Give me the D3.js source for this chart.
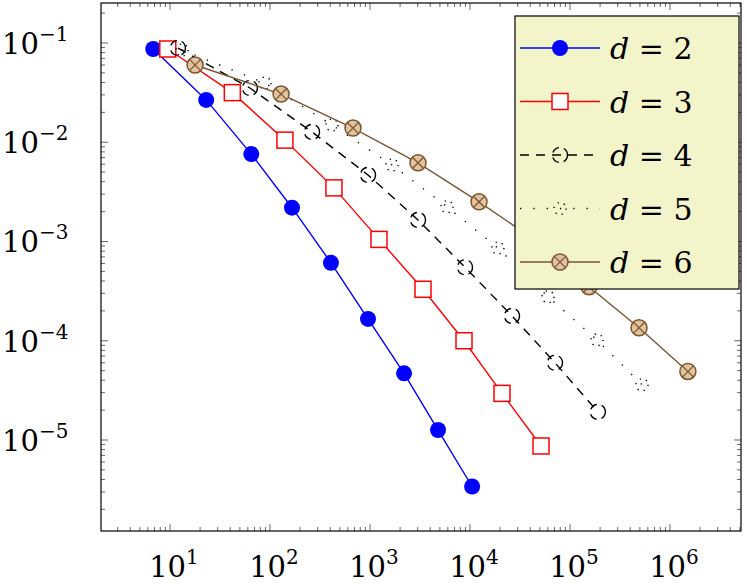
<!DOCTYPE html>
<html>
<head>
<script src="https://cdn.jsdelivr.net/npm/d3@7"></script>
<style>body{margin:0;background:#fff}</style>
</head>
<body>
<svg id="chart" width="747" height="585"></svg>
<script>
// values
const x2 = [6.8, 23, 65, 166, 407, 955, 2190, 4790, 10500];
const y2 = [0.087, 0.0267, 0.0076, 0.00219, 6.1e-4, 1.66e-4, 4.7e-5, 1.26e-5, 3.4e-6];
const x3 = [9.5, 42, 141, 436, 1230, 3390, 8710, 20900, 51300];
const y3 = [0.087, 0.0316, 0.0105, 0.00347, 0.00105, 3.3e-4, 1.0e-4, 2.95e-5, 8.7e-6];
const x4 = [12, 63, 263, 955, 3020, 8910, 26300, 70800, 190000];
const y4 = [0.089, 0.0352, 0.0127, 0.00468, 0.00165, 5.5e-4, 1.78e-4, 6.0e-5, 1.92e-5];
const x5 = [13.2, 89, 417, 1660, 5890, 19000, 60300, 186000, 525000];
const y5 = [0.085, 0.0395, 0.0149, 0.0059, 0.00224, 8.6e-4, 2.77e-4, 1.02e-4, 3.6e-5];
const x6 = [17.8, 129, 676, 3020, 12300, 49000, 155000, 490000, 1510000];
const y6 = [0.060, 0.0306, 0.0139, 0.0062, 0.00251, 9.7e-4, 3.5e-4, 1.35e-4, 4.9e-5];
const labels = ["2", "3", "4", "5", "6"];
const xTickExp = [1, 2, 3, 4, 5, 6];
const yTickExp = [-1, -2, -3, -4, -5];

const L = 101, R = 741, T = 3, B = 531;
const svg = d3.select("#chart");
const x = d3.scaleLog().domain([Math.pow(10, 0.31), Math.pow(10, 6.71)]).range([L, R]);
const y = d3.scaleLog().domain([Math.pow(10, -5.917), Math.pow(10, -0.597)]).range([B, T]);
const font = "DejaVu Serif";

// ticks
const g = svg.append("g").attr("stroke", "#000").attr("stroke-width", 0.6);
for (let e = 0; e <= 6; e++) for (let m = 1; m < 10; m++) {
  const v = m * Math.pow(10, e), px = x(v);
  if (px < L || px > R) continue;
  const len = m === 1 ? 7 : 4;
  g.append("line").attr("x1", px).attr("x2", px).attr("y1", B).attr("y2", B - len);
  g.append("line").attr("x1", px).attr("x2", px).attr("y1", T).attr("y2", T + len);
}
for (let e = -6; e <= -1; e++) for (let m = 1; m < 10; m++) {
  const v = m * Math.pow(10, e), py = y(v);
  if (py < T || py > B) continue;
  const len = m === 1 ? 7 : 4;
  g.append("line").attr("y1", py).attr("y2", py).attr("x1", L).attr("x2", L + len);
  g.append("line").attr("y1", py).attr("y2", py).attr("x1", R).attr("x2", R - len);
}

xTickExp.forEach(e => {
  const t = svg.append("text").attr("x", x(Math.pow(10, e)) + 4).attr("y", B + 46)
    .attr("text-anchor", "middle").attr("font-family", font).attr("font-size", 29);
  t.append("tspan").text("10");
  t.append("tspan").attr("dy", -13).attr("font-size", 20).text(e);
});
yTickExp.forEach(e => {
  const t = svg.append("text").attr("x", 2).attr("y", y(Math.pow(10, e)) + 11)
    .attr("font-family", font).attr("font-size", 29);
  t.append("tspan").text("10");
  t.append("tspan").attr("dy", -13).attr("font-size", 20).text("\u2212" + (-e));
});

const series = [
  {xs: x2, ys: y2, color: "#0000ff", dash: null, mark: "dot"},
  {xs: x3, ys: y3, color: "#ff0000", dash: null, mark: "square"},
  {xs: x4, ys: y4, color: "#000", dash: "9,7", mark: "dcircle"},
  {xs: x5, ys: y5, color: "#000", dash: "1.3,12", mark: "pcircle"},
  {xs: x6, ys: y6, color: "#7b5530", dash: null, mark: "otimes"}
];

function marker(sel, s, cx, cy) {
  if (s.mark === "dot") sel.append("circle").attr("cx", cx).attr("cy", cy).attr("r", 8).attr("fill", "#0000ff");
  else if (s.mark === "square") sel.append("rect").attr("x", cx - 8).attr("y", cy - 8).attr("width", 16).attr("height", 16)
    .attr("fill", "#fff").attr("stroke", "#ff0000").attr("stroke-width", 1.5);
  else if (s.mark === "dcircle") sel.append("circle").attr("cx", cx).attr("cy", cy).attr("r", 7.5)
    .attr("fill", "none").attr("stroke", "#000").attr("stroke-width", 1.4).attr("stroke-dasharray", "8,5");
  else if (s.mark === "pcircle") sel.append("circle").attr("cx", cx).attr("cy", cy).attr("r", 6)
    .attr("fill", "none").attr("stroke", "#000").attr("stroke-width", 1.4).attr("stroke-dasharray", "1.3,5");
  else {
    sel.append("circle").attr("cx", cx).attr("cy", cy).attr("r", 8)
      .attr("fill", "#e2c39f").attr("stroke", "#7b5530").attr("stroke-width", 1.5);
    const d = 5.6;
    sel.append("path").attr("d", `M${cx-d},${cy-d}L${cx+d},${cy+d}M${cx-d},${cy+d}L${cx+d},${cy-d}`)
      .attr("stroke", "#7b5530").attr("stroke-width", 1.3);
  }
}

const line = d3.line().x(d => x(d[0])).y(d => y(d[1]));
series.forEach(s => {
  const pts = s.xs.map((v, i) => [v, s.ys[i]]);
  svg.append("path").attr("d", line(pts)).attr("fill", "none").attr("stroke", s.color)
    .attr("stroke-width", 1.4).attr("stroke-dasharray", s.dash);
  const mg = svg.append("g");
  pts.forEach(p => marker(mg, s, x(p[0]), y(p[1])));
});

// frame
svg.append("rect").attr("x", L).attr("y", T).attr("width", R - L).attr("height", B - T)
  .attr("fill", "none").attr("stroke", "#000").attr("stroke-width", 1.2);

// legend
const lg = svg.append("g");
lg.append("rect").attr("x", 515).attr("y", 16).attr("width", 224).attr("height", 273)
  .attr("fill", "#f4f4cb").attr("stroke", "#000").attr("stroke-width", 1.2);
series.forEach((s, i) => {
  const cy = 48 + i * 53.5;
  lg.append("line").attr("x1", 520).attr("x2", 600).attr("y1", cy).attr("y2", cy)
    .attr("stroke", s.color).attr("stroke-width", 1.4).attr("stroke-dasharray", s.dash);
  marker(lg, s, 560, cy);
  const t = lg.append("text").attr("x", 610).attr("y", cy + 11).attr("font-family", font).attr("font-size", 30);
  t.append("tspan").attr("font-style", "italic").text("d");
  t.append("tspan").text(" = " + labels[i]);
});
</script>
</body>
</html>
